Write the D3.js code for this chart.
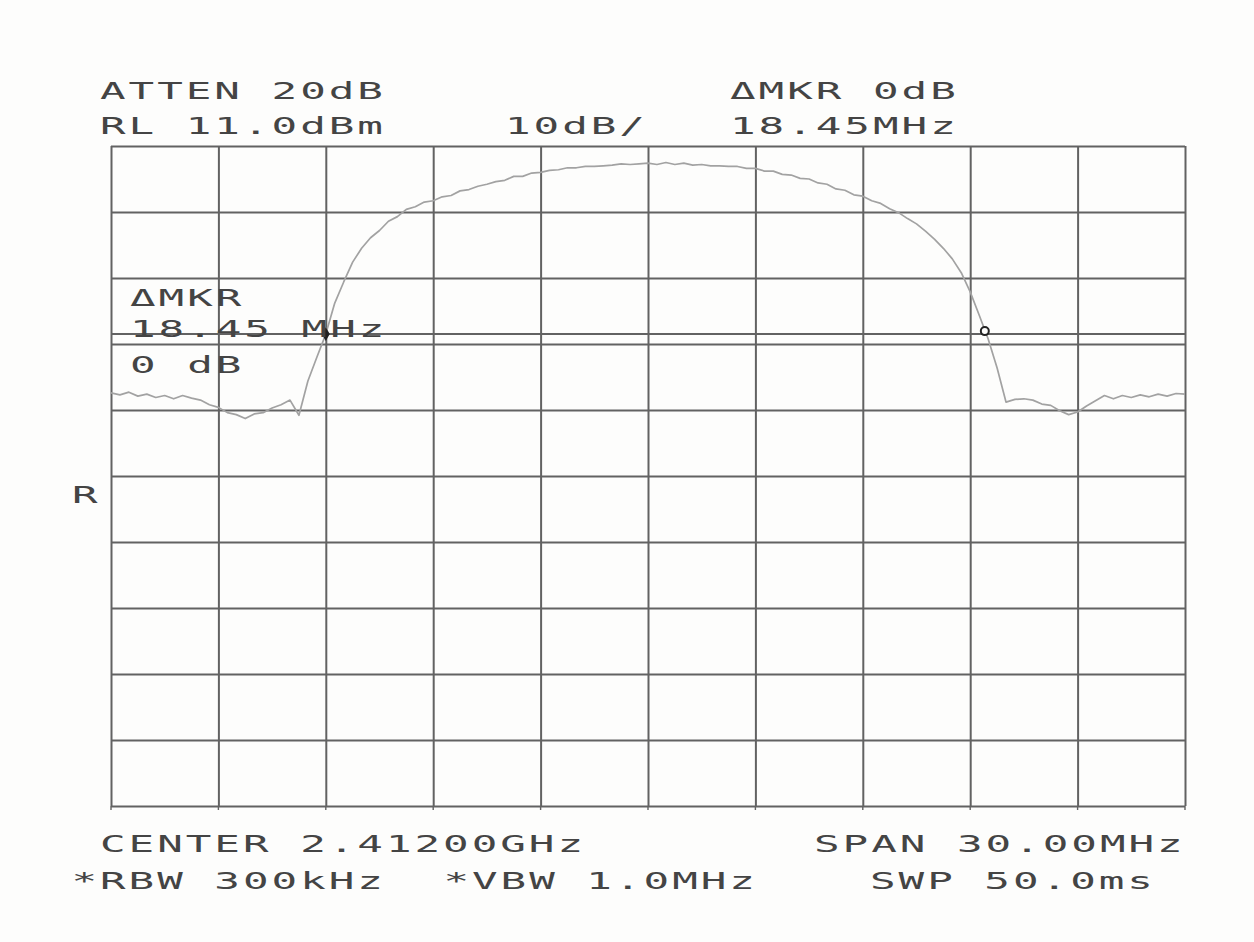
<!DOCTYPE html>
<html>
<head>
<meta charset="utf-8">
<script src="https://cdn.jsdelivr.net/npm/d3@7"></script>
<style>
  html, body { margin: 0; padding: 0; background: #fdfdfc; }
  svg { display: block; }
</style>
</head>
<body>
<svg id="chart" width="1254" height="942"></svg>
<script>
// Analyzer settings
const centerMHz = 2412.0;
const spanMHz = 30.0;
const refLevelDbm = 11.0;
const dbPerDiv = 10;
const divisions = 10;

// Swept trace: frequency (MHz) and level (dBm)
const freqMHz = [
  2397.00, 2397.25, 2397.50, 2397.75, 2398.00, 2398.25, 2398.50, 2398.75, 2399.00, 2399.25,
  2399.50, 2399.75, 2400.00, 2400.25, 2400.50, 2400.75, 2401.00, 2401.25, 2401.50, 2401.75,
  2402.00, 2402.25, 2402.50, 2402.75, 2403.00, 2403.25, 2403.50, 2403.75, 2404.00, 2404.25,
  2404.50, 2404.75, 2405.00, 2405.25, 2405.50, 2405.75, 2406.00, 2406.25, 2406.50, 2406.75,
  2407.00, 2407.25, 2407.50, 2407.75, 2408.00, 2408.25, 2408.50, 2408.75, 2409.00, 2409.25,
  2409.50, 2409.75, 2410.00, 2410.25, 2410.50, 2410.75, 2411.00, 2411.25, 2411.50, 2411.75,
  2412.00, 2412.25, 2412.50, 2412.75, 2413.00, 2413.25, 2413.50, 2413.75, 2414.00, 2414.25,
  2414.50, 2414.75, 2415.00, 2415.25, 2415.50, 2415.75, 2416.00, 2416.25, 2416.50, 2416.75,
  2417.00, 2417.25, 2417.50, 2417.75, 2418.00, 2418.25, 2418.50, 2418.75, 2419.00, 2419.25,
  2419.50, 2419.75, 2420.00, 2420.25, 2420.50, 2420.75, 2421.00, 2421.25, 2421.50, 2421.75,
  2422.00, 2422.25, 2422.50, 2422.75, 2423.00, 2423.25, 2423.50, 2423.75, 2424.00, 2424.25,
  2424.50, 2424.75, 2425.00, 2425.25, 2425.50, 2425.75, 2426.00, 2426.25, 2426.50, 2426.75,
  2427.00
];
const levelDbm = [
  -26.4, -26.7, -26.3, -26.9, -26.6, -27.1, -26.8, -27.3, -26.8, -27.2,
  -27.5, -28.2, -28.6, -29.4, -29.7, -30.3, -29.6, -29.4, -28.7, -28.2,
  -27.5, -29.8, -24.6, -21.0, -17.5, -12.8, -9.6, -6.6, -4.5, -2.9,
  -1.8, -0.4, 0.3, 1.4, 1.8, 2.5, 2.7, 3.3, 3.5, 4.2,
  4.4, 4.9, 5.2, 5.6, 5.8, 6.4, 6.4, 6.9, 7.0, 7.3,
  7.4, 7.7, 7.7, 7.9, 7.9, 8.0, 8.1, 8.3, 8.2, 8.3,
  8.4, 8.2, 8.5, 8.2, 8.4, 8.1, 8.2, 8.0, 8.0, 7.9,
  7.9, 7.6, 7.6, 7.2, 7.2, 6.7, 6.6, 6.1, 6.0, 5.4,
  5.2, 4.5, 4.3, 3.6, 3.4, 2.7, 2.3, 1.5, 0.9, 0.0,
  -0.8, -1.9, -3.1, -4.5, -6.1, -8.2, -11.1, -14.6, -18.2, -22.6,
  -27.8, -27.4, -27.3, -27.5, -28.1, -28.3, -29.1, -29.7, -29.3, -28.4,
  -27.6, -26.8, -27.3, -26.8, -27.1, -26.7, -27.0, -26.6, -26.9, -26.5,
  -26.6
];

// Markers: reference marker and delta marker (18.45 MHz apart, 0 dB)
const markerFreqMHz = [2403.00, 2421.45];
const markerLevelDbm = [-17.5, -17.5];
const displayLineDbm = -17.5;

// Annotation text
const headerLeft = ["ATTEN 20dB", "RL 11.0dBm"];
const headerMid = "10dB/";
const headerRight = ["\u0394MKR 0dB", "18.45MHz"];
const markerReadout = ["\u0394MKR", "18.45 MHz", "0 dB"];
const footerLeft = ["CENTER 2.41200GHz", "*RBW 300kHz", "*VBW 1.0MHz"];
const footerRight = ["SPAN 30.00MHz", "SWP 50.0ms"];
const sideLabel = "R";

// Layout
const plot = { left: 111, right: 1185, top: 146, bottom: 806 };
const ink = "#444444";
const gridInk = "#626262";
const traceInk = "#a2a2a2";

const svg = d3.select("#chart");

const x = d3.scaleLinear()
  .domain([centerMHz - spanMHz / 2, centerMHz + spanMHz / 2])
  .range([plot.left, plot.right]);
const y = d3.scaleLinear()
  .domain([refLevelDbm - dbPerDiv * divisions, refLevelDbm])
  .range([plot.bottom, plot.top]);

const xGrid = d3.range(divisions + 1).map(i => x.domain()[0] + i * spanMHz / divisions);
const yGrid = d3.range(divisions + 1).map(i => y.domain()[0] + i * dbPerDiv);

// Graticule drawn with axes whose ticks span the whole screen
const gx = svg.append("g")
  .attr("transform", `translate(0,${plot.bottom})`)
  .call(d3.axisBottom(x).tickValues(xGrid).tickSize(-(plot.bottom - plot.top)).tickFormat(""));
const gy = svg.append("g")
  .attr("transform", `translate(${plot.left},0)`)
  .call(d3.axisLeft(y).tickValues(yGrid).tickSize(-(plot.right - plot.left)).tickFormat(""));
[gx, gy].forEach(g => {
  g.select(".domain").remove();
  g.selectAll(".tick line")
    .attr("stroke", gridInk)
    .attr("stroke-width", 2);
});

// short tick stubs below the bottom edge
svg.append("g").selectAll("line").data(xGrid).join("line")
  .attr("x1", d => x(d)).attr("x2", d => x(d))
  .attr("y1", plot.bottom).attr("y2", plot.bottom + 4)
  .attr("stroke", gridInk).attr("stroke-width", 1.4);

// Display line at the marker level
svg.append("line")
  .attr("x1", plot.left).attr("x2", plot.right)
  .attr("y1", y(displayLineDbm)).attr("y2", y(displayLineDbm))
  .attr("stroke", gridInk).attr("stroke-width", 2);

// Trace
const traceData = freqMHz.map((f, i) => ({ f, v: levelDbm[i] }));
svg.append("path")
  .datum(traceData)
  .attr("fill", "none")
  .attr("stroke", traceInk)
  .attr("stroke-width", 1.7)
  .attr("stroke-linejoin", "round")
  .attr("d", d3.line().x(d => x(d.f)).y(d => y(d.v)));

// Markers
svg.append("path")
  .attr("d", d3.symbol(d3.symbolDiamond, 55)())
  .attr("transform", `translate(${x(markerFreqMHz[0])},${y(markerLevelDbm[0])})`)
  .attr("fill", "#222");
svg.append("circle")
  .attr("cx", x(markerFreqMHz[1]) - 1.5)
  .attr("cy", y(markerLevelDbm[1]) - 3)
  .attr("r", 4)
  .attr("fill", "#fdfdfc")
  .attr("stroke", "#222")
  .attr("stroke-width", 2);

// Plotter-style monospaced lettering
const SX = 1.85;
const PITCH = 28.6;
const FS = 23;
const ADV = 0.602 * FS * SX;
function plotterText(px, py, str) {
  svg.append("text")
    .attr("transform", `translate(${px},${py}) scale(${SX},1)`)
    .attr("font-family", "DejaVu Sans Mono, monospace")
    .attr("font-size", FS)
    .attr("letter-spacing", (PITCH - ADV) / SX)
    .attr("fill", ink)
    .text(str);
}

plotterText(100, 99, headerLeft[0]);
plotterText(100, 134, headerLeft[1]);
plotterText(505, 134, headerMid);
plotterText(730, 99, headerRight[0]);
plotterText(730, 134, headerRight[1]);

plotterText(130, 306, markerReadout[0]);
plotterText(130, 337, markerReadout[1]);
plotterText(130, 373, markerReadout[2]);

plotterText(100, 852, footerLeft[0]);
plotterText(100 - PITCH, 889, footerLeft[1]);
plotterText(472 - PITCH, 889, footerLeft[2]);
plotterText(814, 852, footerRight[0]);
plotterText(870, 889, footerRight[1]);

plotterText(72, 503, sideLabel);
</script>
</body>
</html>
